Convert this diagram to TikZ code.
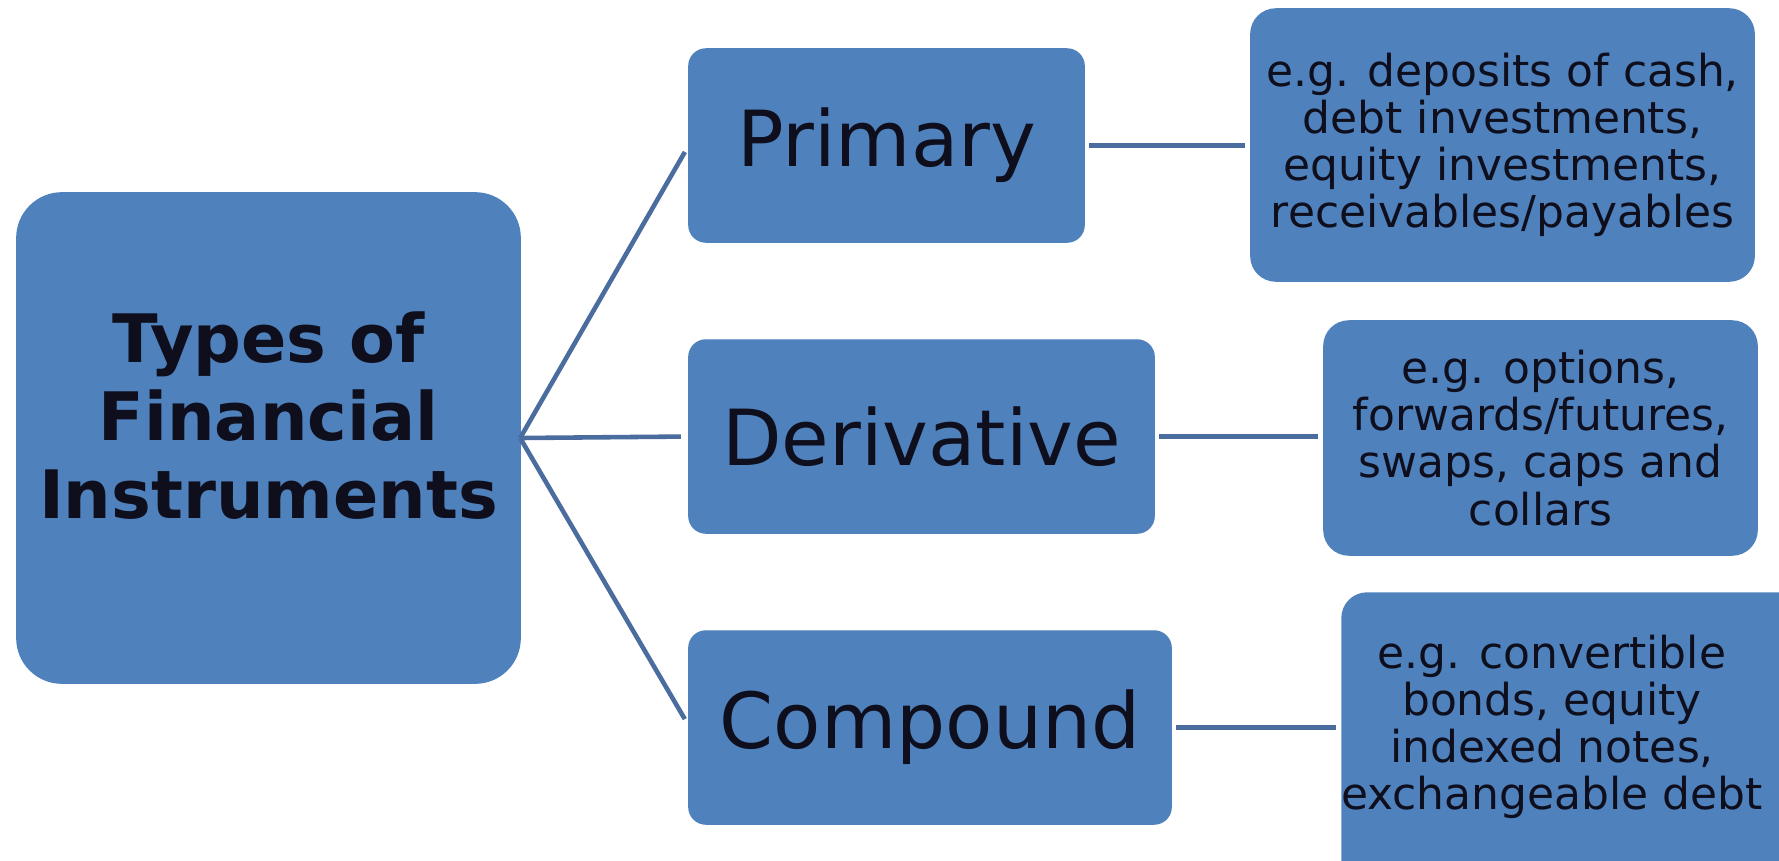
\documentclass[tikz,border=0pt]{standalone}
\usepackage{fontspec}
\setmainfont{DejaVu Sans}
\usepackage{tikz}
\usetikzlibrary{positioning,calc}

\definecolor{boxblue}{HTML}{4F81BD}
\definecolor{linkblue}{HTML}{4A6C9E}
\definecolor{inktext}{HTML}{0E0E1C}

\tikzset{
  rootbox/.style={fill=boxblue, draw=boxblue, rounded corners=0.45cm, inner sep=0pt, outer sep=0pt,
    minimum width=5.03cm, minimum height=4.9cm},
  roottext/.style={align=center, text=inktext, inner sep=0pt,
    font=\fontsize{19}{22.2}\selectfont\bfseries},
  typebox/.style={fill=boxblue, draw=boxblue, rounded corners=0.17cm, inner sep=0pt, outer sep=0pt,
    minimum height=1.93cm, text=inktext, font=\fontsize{22}{26}\selectfont},
  notebox/.style={fill=boxblue, draw=boxblue, rounded corners=0.25cm, inner sep=0pt, outer sep=0pt,
    align=center, text=inktext, font=\fontsize{12.5}{13.4}\selectfont},
  notetext/.style={align=center, text=inktext, font=\fontsize{12.5}{13.4}\selectfont},
  link/.style={draw=linkblue, line width=1.3pt}
}

\begin{document}
\begin{tikzpicture}[x=0.01cm,y=-0.01cm]
\useasboundingbox (0,0) rectangle (1779,860);
\clip (0,0) rectangle (1779,860);

% root
\node[rootbox] (types) at (268.5,438) {};
\node[roottext] (typestext) at (268.5,416) {Types of\\Financial\\Instruments};

% the three kinds
\node[typebox, minimum width=3.95cm] (primary) at (886.5,145.5) {Primary};
\node[typebox, minimum width=4.65cm] (deriv) at (921.5,436.5) {Derivative};
\node[typebox, minimum width=4.82cm] (compound) at (930,727.5) {Compound};

% examples
\node[notebox, minimum width=5.03cm, minimum height=2.72cm] (egprimary) at (1502.5,145)
  {e.g. deposits of cash,\\debt investments,\\equity investments,\\receivables/payables};
\node[notebox, minimum width=4.33cm, minimum height=2.34cm] (egderiv) at (1540.5,438)
  {e.g. options,\\forwards/futures,\\swaps, caps and\\collars};
\node[notebox, anchor=north west, minimum width=4.7cm, minimum height=3.0cm] (egcompound) at (1342,593) {};
\node[notetext] (egcompoundtext) at (1552,727)
  {e.g. convertible\\bonds, equity\\indexed notes,\\exchangeable debt};

% connectors
\coordinate (fork) at (types.east);
\draw[link, shorten >=0.08cm] (fork) -- (primary.west |- 0,145);
\draw[link, shorten >=0.08cm] (fork) -- (deriv.west);
\draw[link, shorten >=0.08cm] (fork) -- (compound.west |- 0,726);
\draw[link, shorten <=0.05cm, shorten >=0.06cm] (primary.east) -- (primary.east -| egprimary.west);
\draw[link, shorten <=0.05cm, shorten >=0.06cm] (deriv.east) -- (deriv.east -| egderiv.west);
\draw[link, shorten <=0.05cm, shorten >=0.06cm] (compound.east) -- (compound.east -| egcompound.west);
\end{tikzpicture}
\end{document}
